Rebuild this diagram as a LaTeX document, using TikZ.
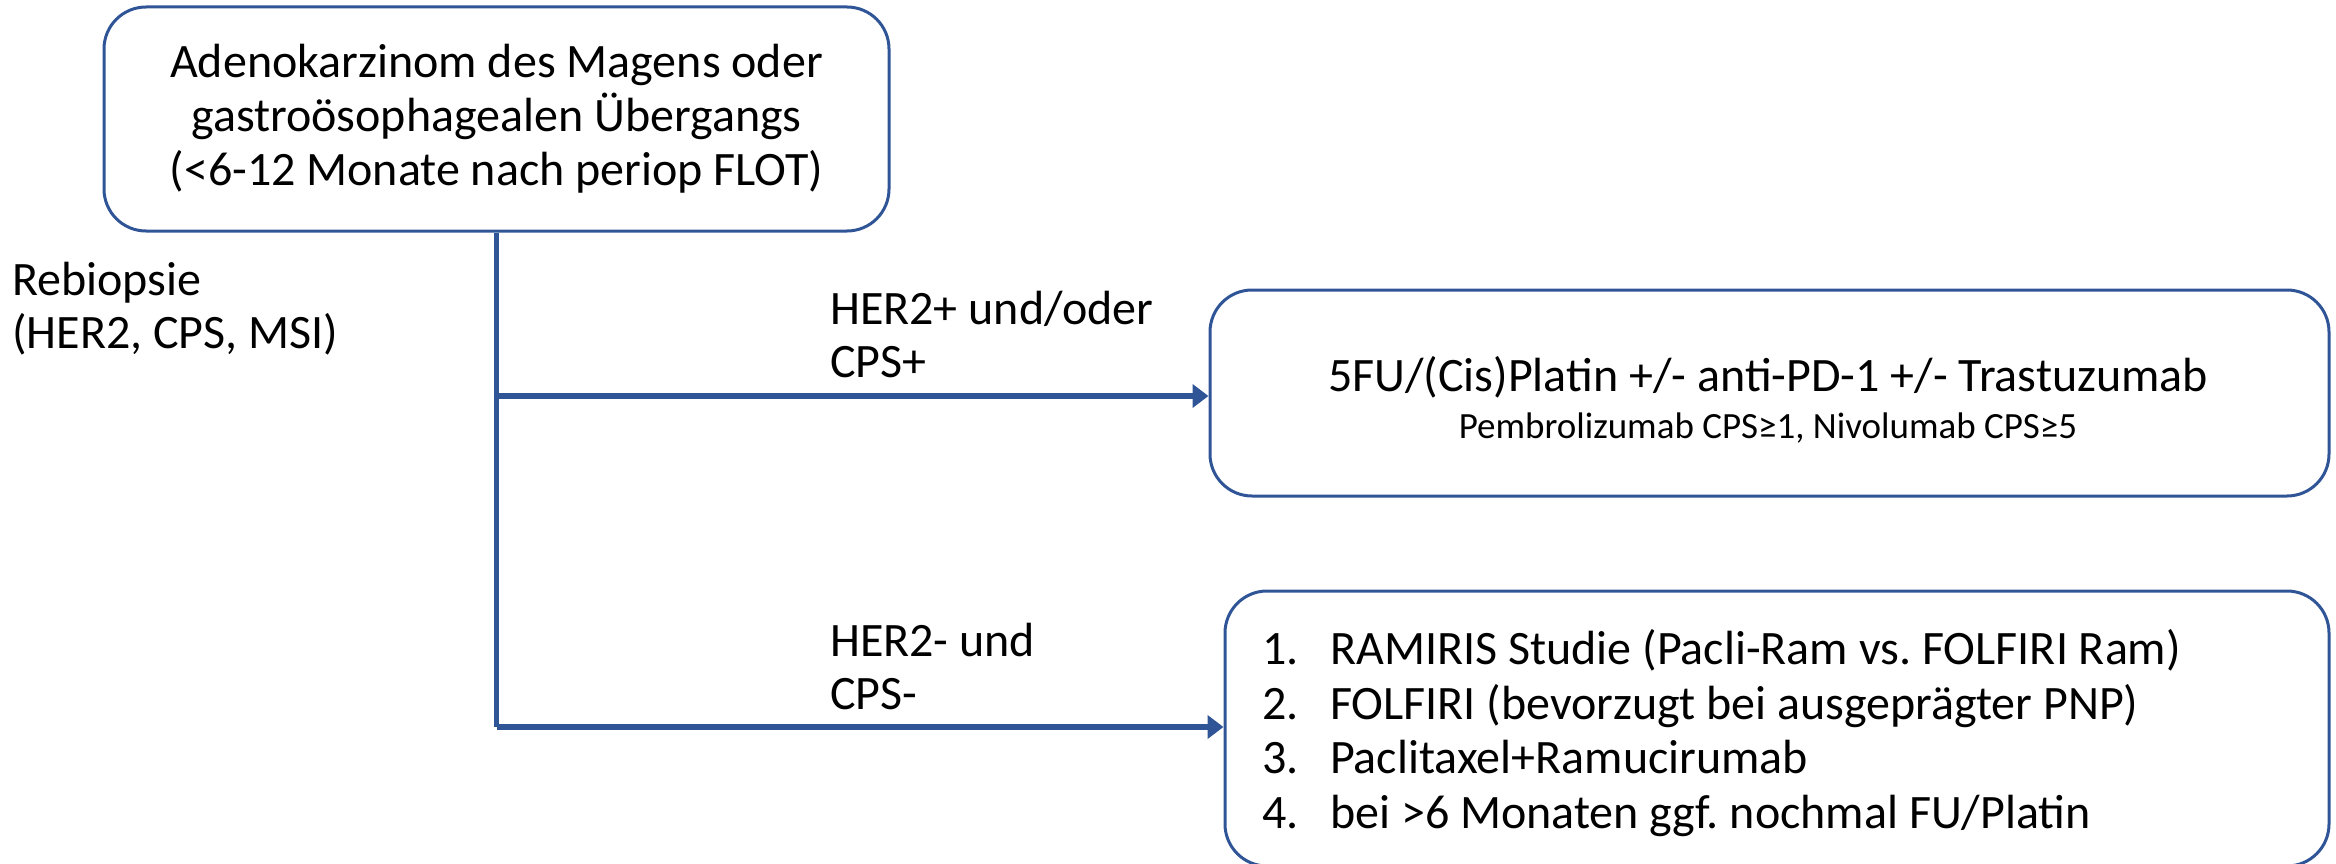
\documentclass[tikz,border=0pt]{standalone}
\usepackage{fontspec}
\setmainfont{Carlito}
\usetikzlibrary{arrows.meta}
\definecolor{frameblue}{RGB}{47,85,151}
\frenchspacing
\begin{document}
\begin{tikzpicture}[x=1pt,y=-1pt,
  box/.style={draw=frameblue,line width=3pt,rounded corners=42pt,inner sep=0pt},
  conn/.style={draw=frameblue,line width=5.5pt},
  arr/.style={conn,-{Triangle[length=16pt,width=23pt]}},
  lbl/.style={font=\fontsize{48}{53}\selectfont,align=left,inner sep=0pt},
]
\useasboundingbox (0,0) rectangle (2336,864);

% main diagnosis box
\node[box,minimum width=785pt,minimum height=224pt,align=center,
      font=\fontsize{48}{54}\selectfont] (top) at (496.5,119)
  {Adenokarzinom des Magens oder\\gastroösophagealen Übergangs\\(<6-12 Monate nach periop FLOT)};

% therapy boxes
\node[box,minimum width=1119pt,minimum height=206pt] (b2) at (1769.5,393) {};
\node[font=\fontsize{48}{54}\selectfont,inner sep=0pt] (b2main) at (1768,377)
  {5FU/(Cis)Platin +/- anti-PD-1 +/- Trastuzumab};
\node[font=\fontsize{37}{44}\selectfont,inner sep=0pt] (b2sub) at (1768,428)
  {Pembrolizumab CPS≥1, Nivolumab CPS≥5};

\node[box,minimum width=1104pt,minimum height=275pt] (b3) at (1777,728.5) {};
\node[lbl,anchor=west,font=\fontsize{48}{54.5}\selectfont] (list) at (1262,733)
  {\makebox[68pt][l]{1.}RAMIRIS Studie (Pacli-Ram vs. FOLFIRI Ram)\\
   \makebox[68pt][l]{2.}FOLFIRI (bevorzugt bei ausgeprägter PNP)\\
   \makebox[68pt][l]{3.}Paclitaxel+Ramucirumab\\
   \makebox[68pt][l]{4.}bei >6 Monaten ggf. nochmal FU/Platin};

% side labels
\node[lbl,anchor=west] (rebio) at (12,309) {Rebiopsie\\(HER2, CPS, MSI)};
\node[lbl,anchor=west] (pos) at (830,334) {HER2+ und/oder\\CPS+};
\node[lbl,anchor=west] (neg) at (830,666) {HER2- und\\CPS-};

% connectors
\coordinate (j1) at (top.south |- 0,396);
\coordinate (j2) at (top.south |- 0,727);
\draw[conn] (top.south) -- (j2);
\draw[arr] (j1) -- (b2.west |- j1);
\draw[arr] (j2) -- (b3.west |- j2);
\end{tikzpicture}
\end{document}
